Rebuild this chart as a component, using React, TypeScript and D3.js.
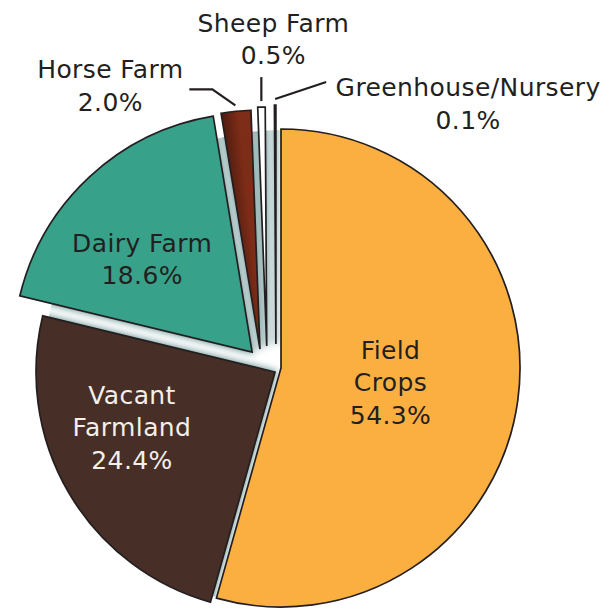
import * as d3 from 'd3'

// share of farm parcels by type (%)
const categories = ['Field Crops', 'Vacant Farmland', 'Dairy Farm', 'Horse Farm', 'Sheep Farm', 'Greenhouse/Nursery']
const shares = [54.3, 24.4, 18.6, 2.0, 0.5, 0.1]
const labelLines = [
  ['Field', 'Crops', '54.3%'],
  ['Vacant', 'Farmland', '24.4%'],
  ['Dairy Farm', '18.6%'],
  ['Horse Farm', '2.0%'],
  ['Sheep Farm', '0.5%'],
  ['Greenhouse/Nursery', '0.1%']
]

const sliceColors = ['#FBAF40', '#472E26', '#38A18A', 'url(#horseGrad)', '#FFFFFF', '#3CA244']
const textColors = ['#231F20', '#F3EFEA', '#231F20', '#231F20', '#231F20', '#231F20']
// explode: [distance px, direction deg clockwise from 12 o'clock]
const explode = [[0, 0], [7.2, 236], [33, 299], [28.3, 312], [26.2, 327], [24.5, 348]]
// inside labels: [radius, deg] from slice tip; null = outside label
const insideLabel = [[110.5, 97.5], [153.4, 248.8], [144, 310.2], null, null, null]
// outside labels: leader bends relative to start, text centre relative to leader end
const leaderPts = [null, null, null, [[-23, -16], [-46, -16]], [[0, -24]], [[51, -17]]]
const textOffset = [null, null, null, [-79, -4], [12, -38], [142, 21.5]]

const W = 615
const H = 609
const cx = 281
const cy = 368
const R = 239
const lineH = 32.5

const rad = (deg: number) => (deg * Math.PI) / 180
const polar = (r: number, deg: number): [number, number] => [r * Math.sin(rad(deg)), -r * Math.cos(rad(deg))]

export default function App() {
  const pie = d3.pie<number>().sort(null).value(d => d)
  const arcs = pie(shares)
  const arc = d3.arc<d3.PieArcDatum<number>>().innerRadius(0).outerRadius(R)

  const tips = arcs.map((a, i) => {
    const [dx, dy] = polar(explode[i][0], explode[i][1])
    return [cx + dx, cy + dy]
  })

  const font = { fontFamily: '"DejaVu Sans", sans-serif', fontSize: 25, letterSpacing: 0.4 }

  const renderText = (lines: string[], x: number, y: number, fill: string, key: string) => (
    <text key={key} x={x} y={y} textAnchor="middle" dominantBaseline="central" fill={fill} style={font}>
      {lines.map((l, j) => (
        <tspan key={j} x={x} y={y + (j - (lines.length - 1) / 2) * lineH}>{l}</tspan>
      ))}
    </text>
  )

  return (
    <svg width={W} height={H} style={{ position: 'absolute', left: 0, top: 0, background: '#fff' }}>
      <defs>
        <linearGradient id="horseGrad" x1="0" y1="1" x2="1" y2="0.35">
          <stop offset="0" stopColor="#1c0c07" />
          <stop offset="0.45" stopColor="#4e1d10" />
          <stop offset="0.75" stopColor="#7C2C17" />
          <stop offset="1" stopColor="#7E2D18" />
        </linearGradient>
        <filter id="glow" x="-20%" y="-20%" width="140%" height="140%">
          <feGaussianBlur stdDeviation="3.5" />
        </filter>
        <clipPath id="pieClip">
          <circle cx={cx} cy={cy} r={R - 1} />
        </clipPath>
      </defs>

      {/* soft shading in the gaps between exploded slices */}
      <g clipPath="url(#pieClip)">
        <g filter="url(#glow)" opacity={0.85}>
          {arcs.map((a, i) => i === 0 ? null : (
            <path key={i} d={arc(a) || ''} transform={`translate(${tips[i][0]},${tips[i][1]})`}
              fill="#4a7b7b" stroke="#4a7b7b" strokeWidth={3} />
          ))}
        </g>
      </g>

      {arcs.map((a, i) => (
        <path key={categories[i]} d={arc(a) || ''} transform={`translate(${tips[i][0]},${tips[i][1]})`}
          fill={sliceColors[i]} stroke="#231F20" strokeWidth={1.7} strokeLinejoin="miter" />
      ))}

      {arcs.map((a, i) => {
        const il = insideLabel[i]
        if (il) {
          const [dx, dy] = polar(il[0], il[1])
          return renderText(labelLines[i], tips[i][0] + dx, tips[i][1] + dy, textColors[i], 'l' + i)
        }
        const mid = ((a.startAngle + a.endAngle) / 2) * 180 / Math.PI
        const [sx0, sy0] = polar(R + 6, mid)
        const sx = tips[i][0] + sx0
        const sy = tips[i][1] + sy0
        const pts: [number, number][] = [[sx, sy], ...(leaderPts[i] || []).map(p => [sx + p[0], sy + p[1]] as [number, number])]
        const end = pts[pts.length - 1]
        const off = textOffset[i] || [0, 0]
        return (
          <g key={'l' + i}>
            <path d={d3.line()(pts) || ''} fill="none" stroke="#231F20" strokeWidth={2.2} />
            {renderText(labelLines[i], end[0] + off[0], end[1] + off[1], textColors[i], 't' + i)}
          </g>
        )
      })}
    </svg>
  )
}
